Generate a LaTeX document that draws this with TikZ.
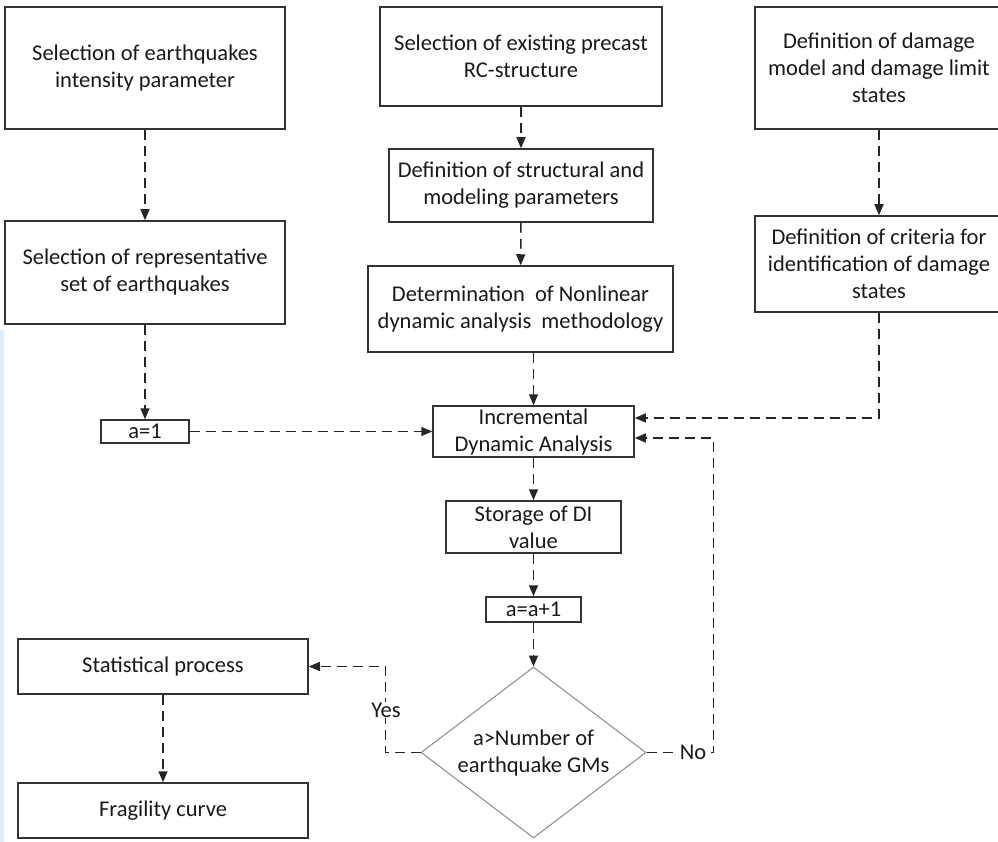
\documentclass[tikz,border=0pt]{standalone}
\usepackage{fontspec}
\setmainfont{Carlito}
\usetikzlibrary{arrows.meta,shapes.geometric,calc}
\definecolor{boxline}{HTML}{333333}
\definecolor{diaLine}{HTML}{8A8A8A}
\definecolor{stripblue}{RGB}{222,237,251}
\tikzset{
  box/.style={draw=boxline, line width=1.5pt, rectangle, align=center, inner sep=0pt,
    text=black!90, font=\fontsize{22.5}{27}\selectfont},
  decision/.style={draw=diaLine, line width=1pt, diamond, shape aspect=1.316, align=center, inner sep=0pt,
    text=black!90, font=\fontsize{22.5}{27}\selectfont},
  flow/.style={draw=black!85, line width=1.5pt, dash pattern=on 10pt off 6pt,
    -{Triangle[length=11pt,width=9pt]}},
  lbl/.style={fill=white, inner sep=1pt, text=black!90, font=\fontsize{22.5}{27}\selectfont}
}
\begin{document}
\begin{tikzpicture}[x=1pt,y=-1pt]
\useasboundingbox (0,0) rectangle (998,842);
\clip (0,0) rectangle (998,842);
\fill[stripblue] (0,330) rectangle (4,842);
% left column
\node[box, minimum width=280pt, minimum height=122pt] (A) at (145,68) {Selection of earthquakes\\intensity parameter};
\node[box, minimum width=280pt, minimum height=103pt] (B) at (145,272.5) {Selection of representative\\set of earthquakes};
\node[box, minimum width=88pt, minimum height=23pt] (a1) at (145,431.5) {a=1};
% centre column
\node[box, minimum width=282pt, minimum height=99pt] (C) at (521,56.5) {Selection of existing precast\\RC-structure};
\node[box, minimum width=264pt, minimum height=73pt] (D) at (521,185.5) {Definition of structural and\\modeling parameters};
\node[box, minimum width=305pt, minimum height=86pt] (E) at (520.5,309) {Determination\ \ of Nonlinear\\dynamic analysis\ \ methodology};
% right column
\node[box, minimum width=248pt, minimum height=122pt] (F) at (879,68) {Definition of damage\\model and damage limit\\states};
\node[box, minimum width=248pt, minimum height=96pt] (G) at (879,264) {Definition of criteria for\\identification of damage\\states};
% main loop
\node[box, minimum width=201pt, minimum height=51pt] (IDA) at (533.5,431.5) {Incremental\\Dynamic Analysis};
\node[box, minimum width=175pt, minimum height=52pt] (S) at (533.5,527) {Storage of DI\\value};
\node[box, minimum width=95pt, minimum height=25pt] (a2) at (533.5,609.5) {a=a+1};
\node[decision, minimum width=225pt, minimum height=171pt] (dia) at (533.5,752.5) {a>Number of\\earthquake GMs};
% bottom left
\node[box, minimum width=290pt, minimum height=55pt] (stat) at (163,666.5) {Statistical process};
\node[box, minimum width=290pt, minimum height=55pt] (frag) at (163,810.5) {Fragility curve};
% connectors
\draw[flow] (A) -- (B);
\draw[flow] (B) -- (a1);
\draw[flow] (a1) -- (IDA);
\draw[flow] (C) -- (D);
\draw[flow] (D) -- (E);
\draw[flow] (E.south -| IDA.north) -- (IDA.north);
\draw[flow] (F) -- (G);
\draw[flow] (G.south) |- ([yshift=13.5pt]IDA.east);
\draw[flow] (IDA) -- (S);
\draw[flow] (S) -- (a2);
\draw[flow] (a2) -- (dia.north);
\draw[flow] (stat) -- (frag);
\coordinate (yesc) at ($(dia.west)+(-35,0)$);
\coordinate (noc) at ($(dia.east)+(67,0)$);
\draw[flow] (dia.west) -- (yesc) |- (stat.east);
\draw[flow] (dia.east) -- (noc) |- ([yshift=-6.5pt]IDA.east);
\node[lbl] (yes) at (386,710) {Yes};
\node[lbl] (no) at (693,752) {No};
\end{tikzpicture}
\end{document}
